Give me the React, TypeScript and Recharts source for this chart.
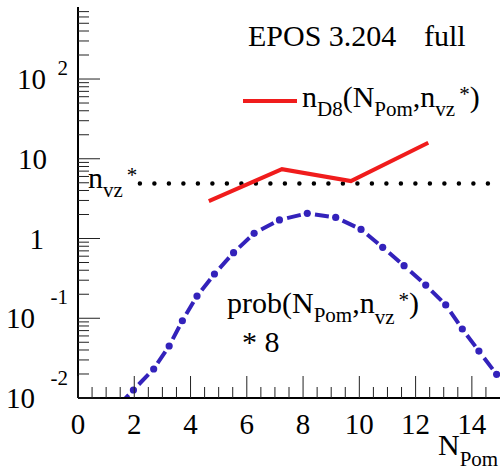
import React from 'react';
import { ComposedChart, Line, XAxis, YAxis } from 'recharts';

const FONT = "'Liberation Serif', 'Times New Roman', Times, 'DejaVu Serif', serif";
const BLUE = '#3322bb';
const RED = '#f01c1c';
const txt = { fontFamily: FONT };

// n_D8(N_Pom, n_vz*)
const ndPom = [4.65, 7.25, 9.7, 12.45];
const ndVal = [2.95, 7.4, 5.25, 15.9];

// level of n_vz*
const nvzPom = [2.2, 15];
const nvzVal = [4.9, 4.9];

// prob(N_Pom, n_vz*) * 8 ; first and last points fall outside the frame
const probPom = [1.28, 1.97, 2.69, 3.24, 3.71, 4.23, 4.85, 5.53, 6.26, 7.16, 8.15, 9.16, 10.06, 10.83, 11.59, 12.36, 13.07, 13.66, 14.25, 14.88, 15.49];
const probVal = [0.007, 0.0126, 0.0231, 0.0449, 0.0931, 0.19, 0.359, 0.664, 1.16, 1.71, 2.07, 1.84, 1.3, 0.776, 0.456, 0.261, 0.147, 0.0733, 0.0388, 0.0198, 0.0103];

const xMajor = [0, 2, 4, 6, 8, 10, 12, 14];
const xTicks = [0, 0.5, 1, 1.5, 2, 2.5, 3, 3.5, 4, 4.5, 5, 5.5, 6, 6.5, 7, 7.5, 8, 8.5, 9, 9.5, 10, 10.5, 11, 11.5, 12, 12.5, 13, 13.5, 14, 14.5];
const yMajor = [0.01, 0.1, 1, 10, 100];
const yMinorSteps = [2, 3, 4, 5, 6, 7, 8, 9];

const zip = (xs: number[], ys: number[]) => xs.map((x, i) => ({ x, y: ys[i] }));
const ndData = zip(ndPom, ndVal);
const nvzData = zip(nvzPom, nvzVal);
const probData = zip(probPom, probVal);

const yTicks: number[] = [];
yMajor.forEach((d) => {
  yTicks.push(d);
  yMinorSteps.forEach((m) => {
    const v = Number((d * m).toPrecision(3));
    if (v < 800) yTicks.push(v);
  });
});

// base, exponent, base offset, exponent baseline shift
const yLabels: Record<string, { base: string; exp?: string; bx: number; ey?: number }> = {
  '100': { base: '10', exp: '2', bx: -32, ey: -4 },
  '10': { base: '10', bx: -31 },
  '1': { base: '1', bx: -34 },
  '0.1': { base: '10', exp: '-1', bx: -43, ey: -14 },
  '0.01': { base: '10', exp: '-2', bx: -43, ey: -13 },
};

const XTick = (props: any) => {
  const { x, y, payload } = props;
  const major = xMajor.includes(payload.value);
  return (
    <g>
      <line x1={x} x2={x} y1={y} y2={y - (major ? 22 : 11)} stroke="#222" strokeWidth={1} />
      {major && (
        <text x={x} y={y + 36} textAnchor="middle" fontSize={29} style={txt} fill="#000">
          {payload.value}
        </text>
      )}
    </g>
  );
};

const YTick = (props: any) => {
  const { x, y, payload } = props;
  const lab = yLabels[String(payload.value)];
  return (
    <g>
      <line x1={x} x2={x + (lab ? 22 : 11)} y1={y} y2={y} stroke="#222" strokeWidth={1} />
      {lab && (
        <text x={x + lab.bx} y={y + 10} textAnchor="end" fontSize={29} style={txt} fill="#000">
          {lab.base}
        </text>
      )}
      {lab && lab.exp && (
        <text x={x - 10} y={y + (lab.ey ?? 0)} textAnchor="end" fontSize={21} style={txt} fill="#000">
          {lab.exp}
        </text>
      )}
    </g>
  );
};

const ProbDot = (props: any) => {
  const { cx, cy, index } = props;
  return <circle key={`pd-${index}`} cx={cx} cy={cy} r={3.6} fill={BLUE} />;
};

export default function App() {
  return (
    <div style={{ position: 'absolute', left: 0, top: 0, background: '#fff', fontFamily: FONT }}>
      <ComposedChart width={501} height={472} margin={{ top: 7, right: 1, bottom: 0, left: 0 }}>
        <XAxis
          xAxisId="b"
          type="number"
          dataKey="x"
          domain={[0, 15]}
          ticks={xTicks}
          interval={0}
          height={74}
          tickSize={0}
          tickMargin={0}
          tickLine={false}
          tick={<XTick />}
          axisLine={{ stroke: '#000', strokeWidth: 2 }}
          allowDataOverflow
        />
        <XAxis xAxisId="t" orientation="top" type="number" domain={[0, 15]} height={0} tick={false} tickLine={false} axisLine={{ stroke: '#444', strokeWidth: 1 }} />
        <YAxis
          yAxisId="l"
          type="number"
          scale="log"
          domain={[0.01, 800]}
          ticks={yTicks}
          interval={0}
          width={78}
          tickSize={0}
          tickMargin={0}
          tickLine={false}
          tick={<YTick />}
          axisLine={{ stroke: '#000', strokeWidth: 2 }}
          allowDataOverflow
        />
        <YAxis yAxisId="r" orientation="right" type="number" domain={[0, 1]} width={0} tick={false} tickLine={false} axisLine={{ stroke: '#222', strokeWidth: 1.5 }} />

        <Line xAxisId="b" yAxisId="l" data={nvzData} dataKey="y" type="linear" stroke="#000" strokeWidth={4.5}
          strokeDasharray="0 14.5" strokeLinecap="round" dot={false} isAnimationActive={false} />
        <Line xAxisId="b" yAxisId="l" data={ndData} dataKey="y" type="linear" stroke={RED} strokeWidth={4}
          dot={false} isAnimationActive={false} />
        <Line xAxisId="b" yAxisId="l" data={probData} dataKey="y" type="linear" stroke={BLUE} strokeWidth={4}
          strokeDasharray="14 14.5" strokeDashoffset={21.25} dot={<ProbDot />} isAnimationActive={false} />

        <g style={txt} fill="#000">
          <text x={248} y={46} fontSize={30} style={txt}>EPOS 3.204</text>
          <text x={424} y={46} fontSize={30} style={txt}>full</text>

          <line x1={243} x2={297} y1={101} y2={101} stroke={RED} strokeWidth={4} />
          <text x={302} y={107} fontSize={30} style={txt}>
            n<tspan fontSize={21} dy={9}>D8</tspan>
            <tspan dy={-9}>(N</tspan>
            <tspan fontSize={21} dy={9}>Pom</tspan>
            <tspan dy={-9}>,n</tspan>
            <tspan fontSize={21} dy={9}>vz</tspan>
            <tspan fontSize={21} dy={-15} dx={4}>*</tspan>
            <tspan dy={6}>)</tspan>
          </text>

          <text x={88} y={188} fontSize={30} style={txt}>
            n<tspan fontSize={21} dy={9}>vz</tspan>
            <tspan fontSize={21} dy={-15} dx={4}>*</tspan>
          </text>

          <text x={227} y={313} fontSize={30} style={txt}>
            prob(N<tspan fontSize={21} dy={9}>Pom</tspan>
            <tspan dy={-9}>,n</tspan>
            <tspan fontSize={21} dy={11}>vz</tspan>
            <tspan fontSize={21} dy={-17} dx={4}>*</tspan>
            <tspan dy={6}>)</tspan>
          </text>
          <text x={242} y={352} fontSize={30} style={txt}>* 8</text>

          <text x={438} y={455} fontSize={30} style={txt}>
            N<tspan fontSize={21} dy={11}>Pom</tspan>
          </text>
        </g>
      </ComposedChart>
    </div>
  );
}
